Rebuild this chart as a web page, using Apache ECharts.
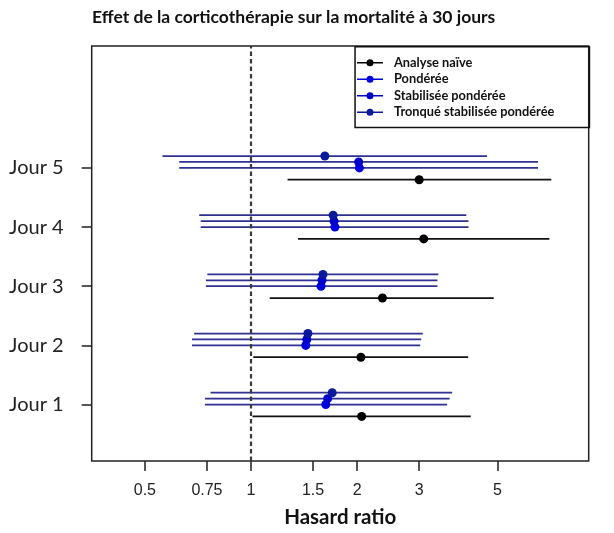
<!DOCTYPE html>
<html><head><meta charset="utf-8">
<script src="https://cdn.jsdelivr.net/npm/echarts@6/dist/echarts.min.js"></script>
<style>html,body{margin:0;padding:0;background:#fff}#c{width:614px;height:533px}</style>
</head><body><div id="c"></div>
<script>
// ---- data ----
const days = ['Jour 1', 'Jour 2', 'Jour 3', 'Jour 4', 'Jour 5'];
const dayPos = [1, 2, 3, 4, 5];
const xTicks = [0.5, 0.75, 1, 1.5, 2, 3, 5];
const methodNames = ['Analyse naïve', 'Pondérée', 'Stabilisée pondérée', 'Tronqué stabilisée pondérée'];

const naiveHR = [2.06, 2.05, 2.36, 3.09, 3.00];
const naiveLo = [1.01, 1.015, 1.13, 1.36, 1.27];
const naiveHi = [4.20, 4.13, 4.88, 7.02, 7.11];

const pondHR = [1.63, 1.43, 1.58, 1.73, 2.03];
const pondLo = [0.74, 0.68, 0.745, 0.72, 0.626];
const pondHi = [3.60, 3.02, 3.38, 4.14, 6.52];

const stabHR = [1.65, 1.44, 1.59, 1.72, 2.02];
const stabLo = [0.74, 0.68, 0.745, 0.72, 0.626];
const stabHi = [3.66, 3.04, 3.38, 4.14, 6.52];

const tronqHR = [1.70, 1.45, 1.60, 1.71, 1.62];
const tronqLo = [0.768, 0.69, 0.752, 0.713, 0.561];
const tronqHi = [3.72, 3.07, 3.40, 4.08, 4.67];

// ---- styling / layout ----
const methods = [
  { hr: naiveHR, lo: naiveLo, hi: naiveHi, off: -0.2, line: '#111111', dot: '#000000' },
  { hr: pondHR,  lo: pondLo,  hi: pondHi,  off: 0.0,  line: '#2e3190', dot: '#0000e0' },
  { hr: stabHR,  lo: stabLo,  hi: stabHi,  off: 0.1,  line: '#2e3190', dot: '#0000cc' },
  { hr: tronqHR, lo: tronqLo, hi: tronqHi, off: 0.2,  line: '#2e3190', dot: '#0a1a9c' }
];

const series = [];
methods.forEach((m, k) => {
  const bars = dayPos.map((p, i) => [m.lo[i], m.hi[i], p + m.off]);
  series.push({
    type: 'custom', name: methodNames[k], data: bars, z: 2,
    encode: { x: [0, 1], y: 2 },
    renderItem: (params, api) => {
      const y = api.value(2);
      const a = api.coord([api.value(0), y]);
      const b = api.coord([api.value(1), y]);
      return { type: 'line', shape: { x1: a[0], y1: a[1], x2: b[0], y2: b[1] },
        style: { stroke: m.line, lineWidth: 1.8 } };
    },
    silent: true
  });
});
methods.forEach((m, k) => {
  series.push({
    type: 'scatter', name: methodNames[k], z: 3,
    data: dayPos.map((p, i) => [m.hr[i], p + m.off]),
    symbol: 'circle', symbolSize: 9,
    itemStyle: { color: m.dot, opacity: 1 },
    silent: true
  });
});
series[0].markLine = {
  silent: true, symbol: 'none', label: { show: false },
  lineStyle: { color: '#3a3a3a', width: 2.2, type: [4.5, 3] },
  data: [{ xAxis: 1 }]
};

const iconPath = 'path://M0,5.2h26v1.6h-26z M13,2.5a3.5,3.5 0 1 1 0,7a3.5,3.5 0 1 1 0,-7z';

const option = {
  animation: false,
  backgroundColor: '#ffffff',
  title: {
    text: 'Effet de la corticothérapie sur la mortalité à 30 jours',
    left: 87, top: 3,
    textStyle: { fontFamily: 'Lato', fontWeight: 'bold', fontSize: 17.5, color: '#111' }
  },
  grid: { left: 91.7, top: 46, right: 25.3, bottom: 70.7, show: true,
          borderColor: '#222', borderWidth: 1.5, backgroundColor: 'transparent' },
  legend: {
    orient: 'vertical', left: 357, top: 56.2,
    itemWidth: 26, itemHeight: 12, itemGap: 3.5,
    padding: 0,
    selectedMode: false,
    textStyle: { fontFamily: 'Lato', fontWeight: 'bold', fontSize: 12.8, color: '#111', lineHeight: 12, padding: [0, 0, 0, 6] },
    data: methodNames.map((n, k) => ({ name: n, icon: iconPath, itemStyle: { color: methods[k].dot } }))
  },
  graphic: [{
    type: 'rect', left: 354.3, top: 46, z: 10, silent: true,
    shape: { width: 234.4, height: 80.7 },
    style: { fill: 'transparent', stroke: '#111', lineWidth: 1.5 }
  }],
  xAxis: {
    type: 'log', min: 0.3533, max: 9.077,
    name: 'Hasard ratio', nameLocation: 'middle', nameGap: 46,
    nameTextStyle: { fontFamily: 'Lato', fontWeight: 'bold', fontSize: 20.5, color: '#111' },
    axisLine: { show: false },
    axisTick: { show: true, customValues: xTicks, length: 10, lineStyle: { color: '#222', width: 1.5 } },
    axisLabel: { customValues: xTicks, margin: 22, fontFamily: 'Liberation Sans', fontSize: 16, color: '#222',
                 formatter: v => String(v) },
    splitLine: { show: false }, minorTick: { show: false }
  },
  yAxis: {
    type: 'value', min: 0.046, max: 7.06,
    axisLine: { show: false },
    axisTick: { show: true, customValues: dayPos, length: 10, lineStyle: { color: '#222', width: 1.5 } },
    axisLabel: { customValues: dayPos, margin: 28, fontFamily: 'Lato', fontSize: 20, color: '#222',
                 formatter: v => days[dayPos.indexOf(Math.round(v))] },
    splitLine: { show: false }
  },
  series: series
};
echarts.init(document.getElementById('c'), null, { renderer: 'canvas' }).setOption(option);
</script></body></html>
